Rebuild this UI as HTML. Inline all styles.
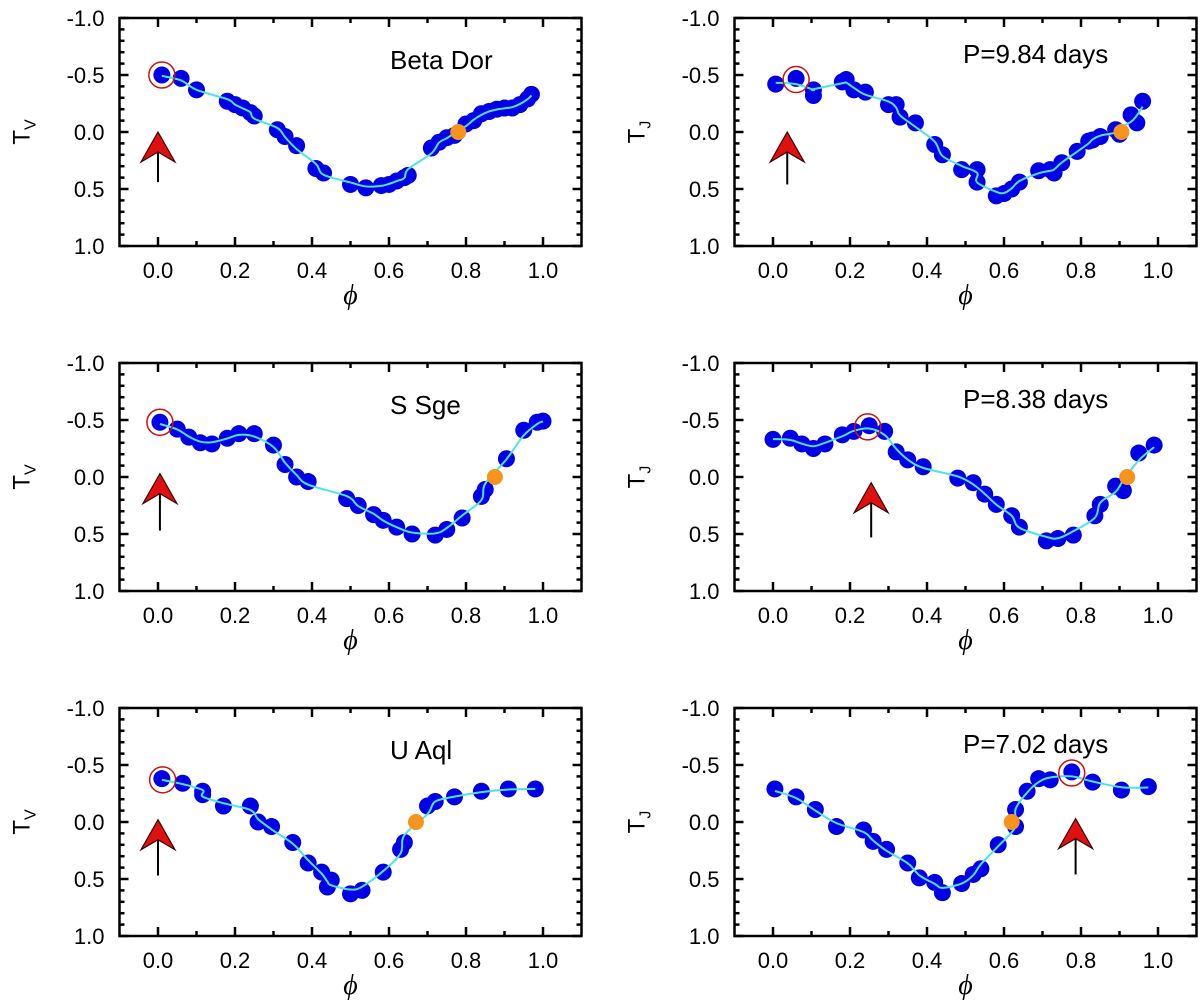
<!DOCTYPE html>
<html><head><meta charset="utf-8"><style>
html,body{margin:0;padding:0;background:#fff;}
svg{display:block;font-family:"Liberation Sans",sans-serif;}
</style></head><body>
<svg id="fig" width="1200" height="1007" viewBox="0 0 1200 1007" xmlns="http://www.w3.org/2000/svg"></svg>
<script>
// ---- data (phase, T) per panel ----
const betaDorV_phi=[0.01,0.06,0.10,0.18,0.20,0.22,0.24,0.25,0.31,0.33,0.36,0.41,0.43,0.50,0.54,0.58,0.60,0.62,0.64,0.65,0.71,0.73,0.75,0.77,0.80,0.82,0.84,0.86,0.88,0.90,0.92,0.94,0.96,0.97];
const betaDorV_T=[-0.50,-0.47,-0.37,-0.27,-0.24,-0.21,-0.17,-0.14,-0.02,0.04,0.12,0.32,0.36,0.46,0.49,0.47,0.46,0.43,0.40,0.38,0.14,0.09,0.05,0.03,-0.07,-0.10,-0.16,-0.18,-0.20,-0.21,-0.21,-0.24,-0.29,-0.33];
const betaDorJ_phi=[0.007,0.06,0.105,0.105,0.18,0.19,0.21,0.24,0.30,0.32,0.33,0.37,0.42,0.44,0.49,0.53,0.53,0.58,0.60,0.62,0.64,0.69,0.72,0.73,0.75,0.79,0.82,0.83,0.85,0.89,0.90,0.93,0.945,0.96];
const betaDorJ_T=[-0.42,-0.47,-0.32,-0.37,-0.44,-0.46,-0.37,-0.35,-0.24,-0.24,-0.13,-0.08,0.11,0.20,0.33,0.33,0.44,0.56,0.54,0.50,0.44,0.34,0.33,0.36,0.27,0.17,0.08,0.07,0.04,-0.02,0.02,-0.15,-0.08,-0.27];
const sSgeV_phi=[0.005,0.05,0.08,0.11,0.14,0.18,0.21,0.25,0.30,0.33,0.36,0.39,0.49,0.52,0.56,0.585,0.62,0.66,0.72,0.75,0.79,0.84,0.85,0.905,0.95,0.985,1.0];
const sSgeV_T=[-0.48,-0.42,-0.35,-0.30,-0.29,-0.34,-0.38,-0.38,-0.28,-0.11,0.00,0.04,0.19,0.25,0.33,0.38,0.44,0.50,0.51,0.46,0.36,0.17,0.11,-0.16,-0.41,-0.48,-0.49];
const sSgeJ_phi=[0.0,0.045,0.075,0.105,0.135,0.18,0.21,0.25,0.29,0.32,0.35,0.39,0.48,0.52,0.55,0.58,0.62,0.64,0.71,0.74,0.78,0.836,0.85,0.89,0.91,0.95,0.99];
const sSgeJ_T=[-0.33,-0.34,-0.29,-0.25,-0.29,-0.37,-0.40,-0.45,-0.40,-0.22,-0.15,-0.09,0.01,0.05,0.15,0.24,0.34,0.44,0.56,0.54,0.51,0.34,0.24,0.08,0.12,-0.21,-0.28];
const uAqlV_phi=[0.01,0.064,0.116,0.116,0.17,0.24,0.26,0.295,0.35,0.39,0.425,0.44,0.45,0.50,0.53,0.585,0.63,0.64,0.70,0.72,0.77,0.84,0.91,0.98];
const uAqlV_T=[-0.38,-0.34,-0.27,-0.24,-0.14,-0.14,0.00,0.04,0.18,0.36,0.44,0.57,0.51,0.63,0.60,0.44,0.24,0.18,-0.14,-0.18,-0.22,-0.27,-0.29,-0.29];
const uAqlJ_phi=[0.005,0.06,0.11,0.165,0.235,0.26,0.295,0.35,0.38,0.42,0.44,0.49,0.52,0.54,0.585,0.63,0.63,0.66,0.69,0.72,0.776,0.83,0.905,0.975];
const uAqlJ_T=[-0.29,-0.22,-0.11,0.04,0.07,0.17,0.24,0.36,0.49,0.53,0.62,0.54,0.46,0.41,0.20,0.04,-0.11,-0.27,-0.38,-0.37,-0.44,-0.35,-0.28,-0.31];
// highlighted points [phi,T], orange zero-crossing [phi,T], arrow [phi, tipT, baseT]
const circles=[[0.01,-0.50],[0.06,-0.46],[0.005,-0.48],[0.246,-0.44],[0.012,-0.37],[0.776,-0.43]];
const oranges=[[0.78,0.0],[0.905,0.0],[0.875,0.0],[0.92,0.0],[0.67,0.0],[0.62,0.0]];
const arrows=[[0.0,0.0,0.44],[0.037,0.0,0.46],[0.005,-0.03,0.47],[0.255,0.05,0.53],[0.0,-0.02,0.47],[0.786,-0.03,0.46]];
const labels=["Beta Dor","P=9.84 days","S Sge","P=8.38 days","U Aql","P=7.02 days"];
const yTicks=[-1.0,-0.5,0.0,0.5,1.0];
const xTicks=[0.0,0.2,0.4,0.6,0.8,1.0];

const NS="http://www.w3.org/2000/svg";
const svg=document.getElementById('fig');
function mk(tag,attrs,parent){const e=document.createElementNS(NS,tag);for(const k in attrs)e.setAttribute(k,attrs[k]);(parent||svg).appendChild(e);return e;}

const series=[[betaDorV_phi,betaDorV_T],[betaDorJ_phi,betaDorJ_T],[sSgeV_phi,sSgeV_T],[sSgeJ_phi,sSgeJ_T],[uAqlV_phi,uAqlV_T],[uAqlJ_phi,uAqlJ_T]];
const tops=[18,363,708];

for(let p=0;p<6;p++){
  const col=p%2,row=Math.floor(p/2);
  const x0=col?773:158, top=tops[row];
  const xs=v=>x0+385*v, ys=v=>top+(v+1)*114;
  const g=mk('g',{});
  
  
  const L=xs(-0.1),R=xs(1.1),T=ys(-1),B=ys(1);
  for(let i=-10;i<=10;i++){
    const v=i/10, y=ys(v), len=(i%5===0)?9:5;
    mk('line',{x1:L,x2:L+len,y1:y,y2:y,stroke:'#000','stroke-width':2.5},g);
    mk('line',{x1:R,x2:R-len,y1:y,y2:y,stroke:'#000','stroke-width':2.5},g);
  }
  for(let i=0;i<=10;i++){
    const v=i/10,x=xs(v),len=(i%2===0)?9:5;
    mk('line',{x1:x,x2:x,y1:B,y2:B-len,stroke:'#000','stroke-width':2.5},g);
    mk('line',{x1:x,x2:x,y1:T,y2:T+len,stroke:'#000','stroke-width':2.5},g);
  }
  const fr=mk('rect',{x:L,y:T,width:R-L,height:B-T,fill:'none',stroke:'#000','stroke-width':2.5},g);
  
  
  yTicks.forEach(v=>{
    const t=mk('text',{x:L-15,y:ys(v)+8,'font-size':22,'text-anchor':'end'},g);
    
    
    t.textContent=v.toFixed(1);
  });
  xTicks.forEach(v=>{
    const t=mk('text',{x:xs(v),y:B+32,'font-size':22,'text-anchor':'middle'},g);
    
    
    t.textContent=v.toFixed(1);
  });
  const yt=mk('text',{x:0,y:0,'font-size':24,transform:`translate(${L-90},${ys(0)}) rotate(-90)`,'text-anchor':'middle'},g);
  
  
  yt.innerHTML='T<tspan font-size="16" dy="6">'+(col?'J':'V')+'</tspan>';
  const xt=mk('text',{x:(L+R)/2,y:B+58,'font-size':28,'font-style':'italic','font-family':'Liberation Serif, serif','text-anchor':'middle'},g);
  
  
  xt.textContent='\u03D5';
  const lb=mk('text',{x:col?963:390,y:col?top+45:top+51,'font-size':26},g);
  
  
  lb.textContent=labels[p];
  const [ph,tv]=series[p];
  ph.forEach((v,i)=>{
    const c=mk('circle',{cx:xs(v),cy:ys(tv[i]),r:8.5,fill:'#0000e6'},g);
    
    
  });
  const idx=ph.map((v,i)=>i).sort((a,b)=>ph[a]-ph[b]);
  const sx=idx.map(i=>ph[i]), sy0=idx.map(i=>tv[i]);
  const sy=sy0.map((v,i)=>{const a=sy0[Math.max(0,i-1)],b=sy0[Math.min(sy0.length-1,i+1)];return (a+2*v+b)/4;});
  const P=sx.map((v,i)=>[xs(v),ys(sy[i])]);
  let d='M'+P[0][0]+','+P[0][1];
  for(let i=0;i<P.length-1;i++){
    const p0=P[Math.max(0,i-1)],p1=P[i],p2=P[i+1],p3=P[Math.min(P.length-1,i+2)];
    d+=` C${p1[0]+(p2[0]-p0[0])/6},${p1[1]+(p2[1]-p0[1])/6} ${p2[0]-(p3[0]-p1[0])/6},${p2[1]-(p3[1]-p1[1])/6} ${p2[0]},${p2[1]}`;
  }
  const cv=mk('path',{d:d,fill:'none',stroke:'#4fe3e8','stroke-width':2},g);
  
  
  const o=mk('circle',{cx:xs(oranges[p][0]),cy:ys(oranges[p][1]),r:8,fill:'#f7941d'},g);
  
  
  const rc=mk('circle',{cx:xs(circles[p][0]),cy:ys(circles[p][1]),r:13,fill:'none',stroke:'#cc1111','stroke-width':1.5},g);
  
  
  const ax=xs(arrows[p][0]),tip=ys(arrows[p][1]),base=ys(arrows[p][2]);
  const ag=mk('g',{},g);
  
  
  mk('line',{x1:ax,x2:ax,y1:tip+18,y2:base,stroke:'#000','stroke-width':2},ag);
  mk('path',{d:`M${ax},${tip} L${ax+17},${tip+30} L${ax},${tip+20} L${ax-17},${tip+30} Z`,fill:'#e01010',stroke:'#3a0000','stroke-width':1.2},ag);
}
</script>
</body></html>
